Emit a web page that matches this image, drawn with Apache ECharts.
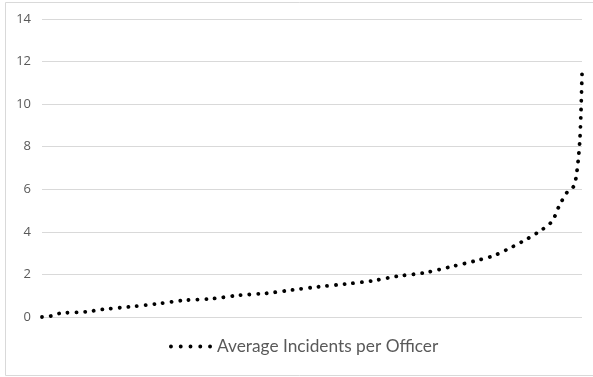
<!DOCTYPE html>
<html>
<head>
<meta charset="utf-8">
<script src="https://cdn.jsdelivr.net/npm/echarts@6/dist/echarts.min.js"></script>
<style>
  html, body { margin: 0; padding: 0; background: #fff; }
  #chart { width: 593px; height: 377px; }
</style>
</head>
<body>
<div id="chart"></div>
<script>
// Officers ranked by average incidents (percent of officers, lowest to highest)
const officerRankPct = [0, 1.7, 3.3, 8.3, 11.3, 16.3, 21.3, 26.2, 31.5, 36.4, 41.4, 46.3,
  51.2, 56.2, 61.2, 65.9, 70.9, 75.7, 80.3, 83.4, 86.2, 89.0, 91.8, 94.4, 95.8, 97.3,
  98.5, 98.9, 99.3, 99.6, 99.8, 100];
const avgIncidents = [0, 0.05, 0.17, 0.25, 0.36, 0.48, 0.62, 0.78, 0.86, 1.02, 1.11, 1.27,
  1.42, 1.55, 1.70, 1.92, 2.08, 2.36, 2.64, 2.86, 3.18, 3.55, 3.97, 4.48, 5.23, 5.88,
  6.15, 6.56, 7.37, 8.31, 9.56, 11.4];
const yTicks = [0, 2, 4, 6, 8, 10, 12, 14];
const seriesName = 'Average Incidents per Officer';

const points = officerRankPct.map((x, i) => [x, avgIncidents[i]]);

// Five round dots, used as the legend key for the dotted line
const dotKey = 'path://' + [0, 1, 2, 3, 4].map(i => {
  const cx = 2 + i * 10;
  return 'M' + (cx - 2) + ',2a2,2 0 1,0 4,0a2,2 0 1,0 -4,0Z';
}).join('');

const chart = echarts.init(document.getElementById('chart'), null, { renderer: 'canvas' });
chart.setOption({
  animation: false,
  backgroundColor: '#fff',
  textStyle: { fontFamily: 'Lato, sans-serif' },
  graphic: [{
    type: 'rect',
    shape: { x: 5.5, y: 2.5, width: 620, height: 373 },
    style: { fill: 'none', stroke: '#d9d9d9', lineWidth: 1 },
    silent: true
  }],
  grid: { left: 42, right: 11, top: 19, bottom: 60, containLabel: false },
  xAxis: {
    type: 'value',
    min: 0,
    max: 100,
    show: false
  },
  yAxis: {
    type: 'value',
    min: yTicks[0],
    max: yTicks[yTicks.length - 1],
    interval: 2,
    axisLine: { show: false },
    axisTick: { show: false },
    axisLabel: { color: '#595959', fontSize: 13, margin: 11, fontFamily: 'Open Sans, sans-serif' },
    splitLine: { lineStyle: { color: '#d9d9d9', width: 1 } }
  },
  legend: {
    bottom: 17,
    left: 164,
    icon: dotKey,
    itemWidth: 43,
    itemHeight: 4,
    itemGap: 4,
    itemStyle: { color: '#000' },
    textStyle: { color: '#595959', fontSize: 17.3, fontFamily: 'Lato, sans-serif' },
    data: [seriesName]
  },
  series: [{
    name: seriesName,
    type: 'line',
    data: points,
    showSymbol: false,
    symbol: 'none',
    smooth: 0.3,
    itemStyle: { color: '#000' },
    lineStyle: {
      color: '#000',
      width: 3.8,
      type: [0.1, 8.6],
      cap: 'round'
    }
  }]
});
</script>
</body>
</html>
